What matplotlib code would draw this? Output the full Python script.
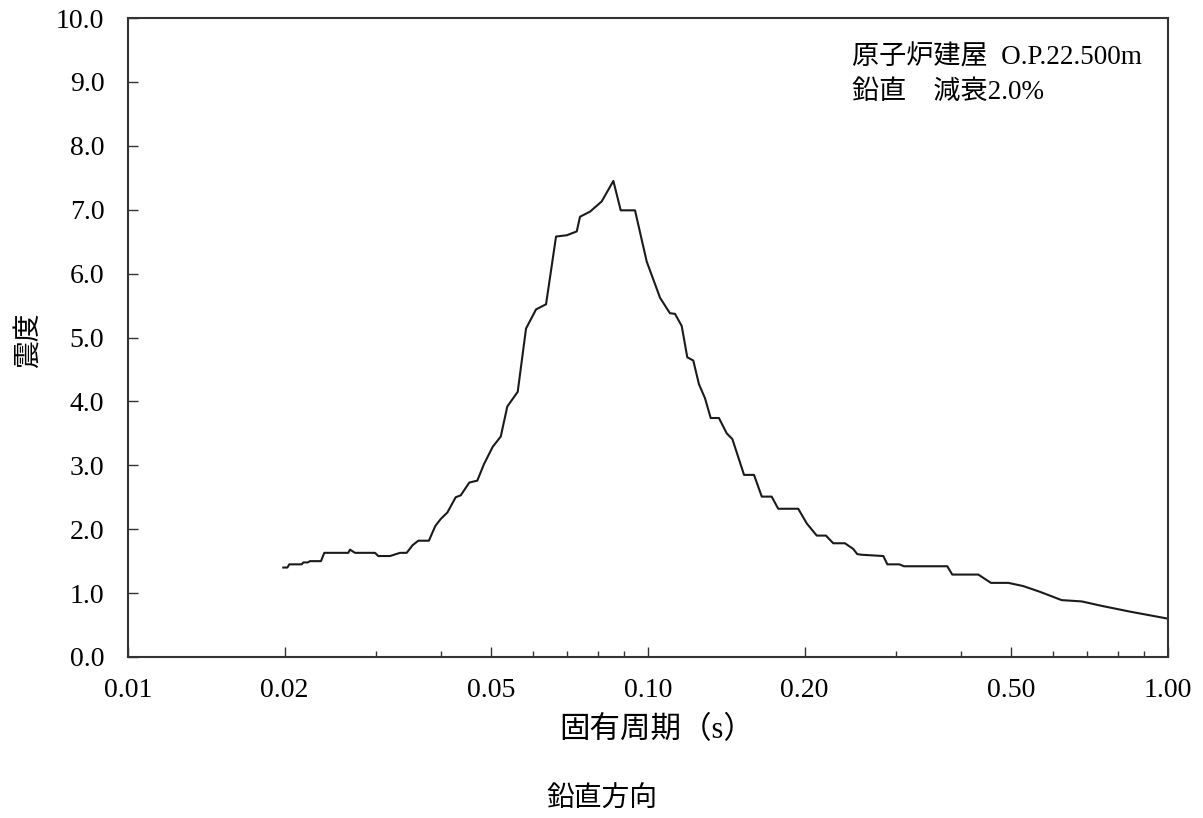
import numpy as np
import matplotlib
matplotlib.use("Agg")
import matplotlib.pyplot as plt
import matplotlib.ticker as mticker

plt.rcParams['font.family'] = ['Liberation Serif', 'Noto Sans CJK JP']
plt.rcParams['axes.unicode_minus'] = False

# 固有周期 (s) と 震度
period = [0.01989, 0.02025, 0.02043, 0.02158, 0.02174, 0.02216, 0.02239, 0.02350,
          0.02385, 0.02652, 0.02673, 0.02733, 0.02985, 0.03029, 0.03190, 0.03335,
          0.03435, 0.03527, 0.03616, 0.03790, 0.03899, 0.03994, 0.04112, 0.04268,
          0.04364, 0.04533, 0.04696, 0.04838, 0.05028, 0.05210, 0.05363, 0.05616,
          0.05827, 0.06091, 0.06367, 0.06655, 0.06979, 0.07294, 0.07401, 0.07737,
          0.08147, 0.08578, 0.08862, 0.09441, 0.09942, 0.1055, 0.1102, 0.1127,
          0.1161, 0.1190, 0.1222, 0.1253, 0.1287, 0.1320, 0.1369, 0.1417,
          0.1453, 0.1530, 0.1599, 0.1655, 0.1729, 0.1780, 0.1945, 0.2020,
          0.2111, 0.2199, 0.2271, 0.2392, 0.2482, 0.2526, 0.2576, 0.2835,
          0.2886, 0.3043, 0.3107, 0.3763, 0.3847, 0.4317, 0.4566, 0.4931,
          0.5268, 0.5673, 0.6245, 0.6823, 0.7457, 0.8452, 1.0]
intensity = [1.40, 1.40, 1.45, 1.45, 1.48, 1.48, 1.50, 1.50,
             1.63, 1.63, 1.68, 1.63, 1.63, 1.58, 1.58, 1.63,
             1.63, 1.75, 1.82, 1.82, 2.05, 2.16, 2.26, 2.50,
             2.53, 2.73, 2.76, 3.02, 3.29, 3.45, 3.92, 4.15,
             5.14, 5.44, 5.52, 6.58, 6.60, 6.66, 6.89, 6.97,
             7.13, 7.45, 6.99, 6.99, 6.19, 5.62, 5.38, 5.37,
             5.18, 4.69, 4.64, 4.27, 4.05, 3.74, 3.74, 3.50,
             3.41, 2.85, 2.85, 2.51, 2.51, 2.32, 2.32, 2.09,
             1.90, 1.90, 1.78, 1.78, 1.69, 1.61, 1.60, 1.58,
             1.45, 1.45, 1.42, 1.42, 1.29, 1.29, 1.16, 1.16,
             1.11, 1.02, 0.89, 0.87, 0.80, 0.71, 0.60]

x_ticks = [0.01, 0.02, 0.05, 0.10, 0.20, 0.50, 1.00]
x_tick_labels = ['0.01', '0.02', '0.05', '0.10', '0.20', '0.50', '1.00']
y_ticks = np.arange(0, 10.5, 1.0)

fig = plt.figure(figsize=(12.03, 8.18), dpi=100)
ax = fig.add_axes([128 / 1203, 1 - 657 / 818, 1040 / 1203, 639 / 818])

ax.plot(period, intensity, color='#1a1a1a', linewidth=1.5)

ax.set_xscale('log')
ax.set_xlim(0.01, 1.0)
ax.set_ylim(0, 10)
ax.set_xticks(x_ticks)
ax.set_xticklabels(x_tick_labels)
ax.xaxis.set_minor_locator(mticker.LogLocator(base=10, subs=np.arange(2, 10)))
ax.xaxis.set_minor_formatter(mticker.NullFormatter())
ax.set_yticks(y_ticks)
ax.yaxis.set_major_formatter(mticker.FormatStrFormatter('%.1f'))

ax.tick_params(axis='both', which='major', direction='in', length=7, width=1,
               labelsize=20, color='#333333')
ax.tick_params(axis='x', which='minor', direction='in', length=4, width=1,
               color='#333333')
ax.tick_params(axis='x', which='major', pad=15)
ax.tick_params(axis='y', which='major', pad=17)
for s in ax.spines.values():
    s.set_linewidth(1.5)
    s.set_color('#333333')

ax.set_xlabel('固有周期（s）', fontsize=22, va='top')
ax.xaxis.set_label_coords(0.508, -0.092)
ax.set_ylabel('震度', fontsize=20, va='bottom')
ax.yaxis.set_label_coords(-0.082, 0.496)

ax.text(0.696, 0.937, '原子炉建屋  O.P.22.500m', transform=ax.transAxes,
        fontsize=19.5, va='center', ha='left')
ax.text(0.696, 0.884, '鉛直　減衰2.0%', transform=ax.transAxes,
        fontsize=19.5, va='center', ha='left')

fig.text(602 / 1203, 1 - 800 / 818, '鉛直方向', fontsize=20, ha='center', va='center')

fig.savefig('out.png', dpi=100, facecolor='white')
